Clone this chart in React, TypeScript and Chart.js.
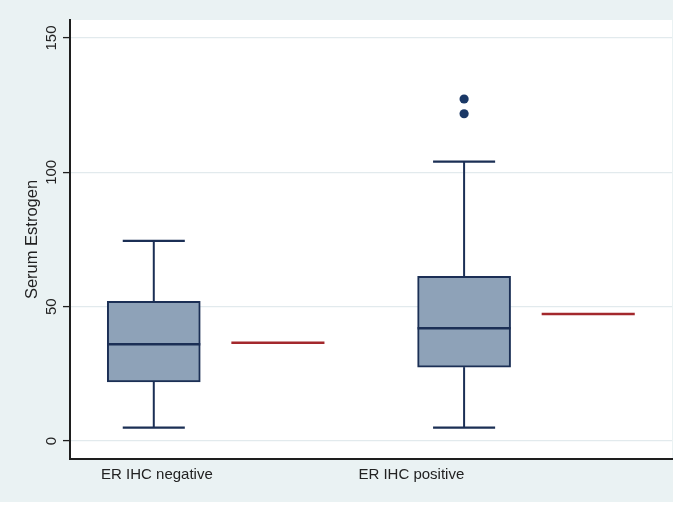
import React, { useEffect, useRef } from "react";
import { Chart, registerables } from "chart.js";

Chart.register(...registerables);

// ---- data ----
const categories = ["ER IHC negative", "ER IHC positive"];
const whiskerLow = [5, 5];
const quartile1 = [22, 27.5];
const medians = [36, 42];
const quartile3 = [52, 61.3];
const whiskerHigh = [74.5, 104];
const outlierValues = [[], [121.8, 127.3]];
const groupMeans = [36.6, 47.3];
const yTickValues = [0, 50, 100, 150];

// ---- layout / style constants ----
const FONT = "'Liberation Sans', Arial, Helvetica, sans-serif";
const NAVY = "#1b2f55";
const BOX_FILL = "#8ea2b8";
const DOT = "#1a3866";
const RED = "#a3282c";
const TEXT = "#222222";
const AXIS = "#1e1e1e";
const GRID = "#e2eaed";
const OUTER_BG = "#eaf2f3";

const GROUP_STEP = 5;
const BOX_OFFSET = 1;
const MEAN_OFFSET = 3;
const HALF_W = 0.75;
const CAP_HALF = 0.5;
const LABEL_START = 1.05;
const LABEL_STEP = 4.1;

const boxX = (i: number) => BOX_OFFSET + i * GROUP_STEP;
const meanX = (i: number) => MEAN_OFFSET + i * GROUP_STEP;

function seg(x1: number, y1: number, x2: number, y2: number, color: string, width: number) {
  return {
    type: "line" as const,
    data: [
      { x: x1, y: y1 },
      { x: x2, y: y2 },
    ],
    borderColor: color,
    borderWidth: width,
    borderCapStyle: "butt" as const,
    pointRadius: 0,
    pointHoverRadius: 0,
    showLine: true,
    fill: false,
    order: 0,
  };
}

const bgPlugin = {
  id: "bgPlugin",
  beforeDraw(chart: any) {
    const { ctx, width, height, chartArea } = chart;
    ctx.save();
    ctx.fillStyle = OUTER_BG;
    ctx.fillRect(0, 0, width, height);
    ctx.fillStyle = "#ffffff";
    ctx.fillRect(
      chartArea.left,
      chartArea.top,
      chartArea.right - chartArea.left,
      chartArea.bottom - chartArea.top
    );
    ctx.restore();
  },
};

export default function App() {
  const ref = useRef<HTMLCanvasElement | null>(null);

  useEffect(() => {
    if (!ref.current) return;

    const datasets: any[] = [];
    categories.forEach((_, i) => {
      const c = boxX(i);
      datasets.push(seg(c, whiskerLow[i], c, quartile1[i], NAVY, 2));
      datasets.push(seg(c, quartile3[i], c, whiskerHigh[i], NAVY, 2));
      datasets.push(seg(c - CAP_HALF, whiskerLow[i], c + CAP_HALF, whiskerLow[i], NAVY, 2.2));
      datasets.push(seg(c - CAP_HALF, whiskerHigh[i], c + CAP_HALF, whiskerHigh[i], NAVY, 2.2));
      datasets.push(seg(c - HALF_W, medians[i], c + HALF_W, medians[i], NAVY, 2.5));
      const m = meanX(i);
      datasets.push(seg(m - HALF_W, groupMeans[i], m + HALF_W, groupMeans[i], RED, 2.5));
    });

    datasets.push({
      type: "scatter",
      data: categories.flatMap((_, i) => outlierValues[i].map((v) => ({ x: boxX(i), y: v }))),
      pointRadius: 4.6,
      pointHoverRadius: 4.6,
      backgroundColor: DOT,
      borderColor: DOT,
      borderWidth: 0,
      order: 1,
    });

    datasets.push({
      type: "bar",
      data: categories.map((_, i) => ({ x: boxX(i), y: [quartile1[i], quartile3[i]] })),
      backgroundColor: BOX_FILL,
      borderColor: NAVY,
      borderWidth: 2,
      borderSkipped: false,
      barThickness: 93,
      order: 10,
    });

    const chart = new Chart(ref.current, {
      type: "scatter",
      data: { datasets },
      plugins: [bgPlugin],
      options: {
        responsive: false,
        animation: false,
        devicePixelRatio: 1,
        layout: { autoPadding: false, padding: { top: 20, right: 1, bottom: 0, left: 0 } },
        plugins: {
          legend: { display: false },
          tooltip: { enabled: false },
        },
        scales: {
          x: {
            type: "linear",
            min: -0.35,
            max: 9.35,
            offset: false,
            afterBuildTicks: (s: any) => {
              s.ticks = categories.map((_, i) => ({ value: LABEL_START + i * LABEL_STEP }));
            },
            afterFit: (s: any) => {
              s.height = 43;
            },
            grid: { display: false, drawTicks: false },
            border: { display: true, color: AXIS, width: 2 },
            ticks: {
              autoSkip: false,
              maxRotation: 0,
              minRotation: 0,
              padding: 7,
              color: TEXT,
              font: { family: FONT, size: 15 },
              callback: (_v: any, i: number) => categories[i],
            },
          },
          y: {
            type: "linear",
            min: -6.7,
            max: 156.7,
            afterBuildTicks: (s: any) => {
              s.ticks = yTickValues.map((v) => ({ value: v }));
            },
            afterFit: (s: any) => {
              s.width = 70;
            },
            grid: {
              color: GRID,
              lineWidth: 1.2,
              drawTicks: true,
              tickLength: 7,
              tickColor: AXIS,
              tickWidth: 1.3,
            },
            border: { display: true, color: AXIS, width: 2 },
            ticks: {
              autoSkip: false,
              minRotation: 90,
              maxRotation: 90,
              crossAlign: "center",
              padding: -1,
              color: TEXT,
              font: { family: FONT, size: 15 },
            },
            title: {
              display: true,
              text: "Serum Estrogen",
              color: TEXT,
              font: { family: FONT, size: 16.5 },
              padding: { top: 23, bottom: 0 },
            },
          },
        },
      } as any,
    });

    return () => chart.destroy();
  }, []);

  return (
    <div style={{ position: "absolute", left: 0, top: 0, width: 680, height: 507, background: "#ffffff" }}>
      <canvas ref={ref} width={673} height={502} style={{ display: "block", width: 673, height: 502 }} />
    </div>
  );
}
